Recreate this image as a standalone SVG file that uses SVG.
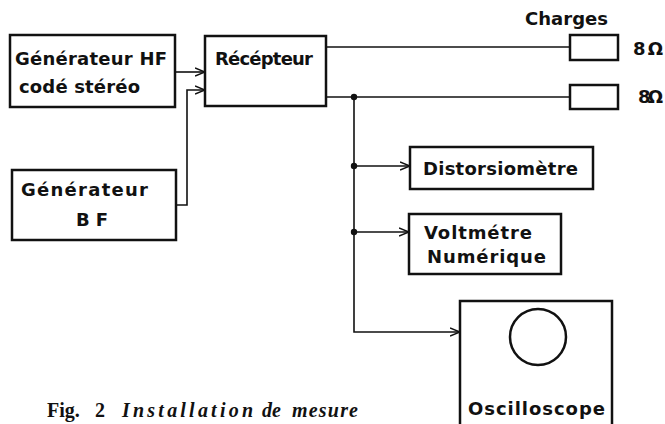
<svg xmlns="http://www.w3.org/2000/svg" width="665" height="424" viewBox="0 0 665 424">
<style>
.box{fill:#fff;stroke:#111;stroke-width:2.5}
.lbl{font-family:"DejaVu Sans","Liberation Sans",sans-serif;font-weight:bold;font-size:18px;fill:#111}
.wire{fill:none;stroke:#111;stroke-width:1.6}
.cap{font-family:"Liberation Serif","DejaVu Serif",serif;font-weight:bold;font-size:20px;fill:#111}
.it{font-style:italic}
</style>
<defs>
<marker id="arr" viewBox="0 0 10 10" refX="10" refY="5" markerWidth="10" markerHeight="10" markerUnits="userSpaceOnUse" orient="auto">
<path d="M0,1 L10,5 L0,9" fill="none" stroke="#111" stroke-width="1.6"/>
</marker>
</defs>
<rect width="665" height="424" fill="#fff"/>
<g id="connectors">
<line class="wire" x1="176" y1="72" x2="205" y2="72" marker-end="url(#arr)"/>
<polyline class="wire" points="176,205 187,205 187,90 205,90" marker-end="url(#arr)"/>
<line class="wire" x1="326" y1="47" x2="570" y2="47"/>
<line class="wire" x1="326" y1="97" x2="570" y2="97"/>
<polyline class="wire" points="354,97 354,332 460,332" marker-end="url(#arr)"/>
<line class="wire" x1="354" y1="166" x2="410" y2="166" marker-end="url(#arr)"/>
<line class="wire" x1="354" y1="232" x2="409" y2="232" marker-end="url(#arr)"/>
<circle cx="354" cy="97" r="3.2" fill="#111"/>
<circle cx="354" cy="166" r="3.2" fill="#111"/>
<circle cx="354" cy="232" r="3.2" fill="#111"/>
</g>
<g id="gen-hf">
<rect class="box" x="10" y="35" width="165" height="72"/>
<text class="lbl" x="15" y="65" textLength="152" lengthAdjust="spacing">Générateur HF</text>
<text class="lbl" x="19" y="93" textLength="121" lengthAdjust="spacing">codé stéréo</text>
</g>
<g id="recepteur">
<rect class="box" x="205" y="36" width="121" height="70"/>
<text class="lbl" x="215" y="65" textLength="98" lengthAdjust="spacing">Récépteur</text>
</g>
<g id="gen-bf">
<rect class="box" x="12" y="170" width="164" height="70"/>
<text class="lbl" x="21" y="196" textLength="127" lengthAdjust="spacing">Générateur</text>
<text class="lbl" x="76" y="226" textLength="32" lengthAdjust="spacing">BF</text>
</g>
<g id="charges">
<text class="lbl" x="525" y="25" textLength="83" lengthAdjust="spacing">Charges</text>
</g>
<g id="charge1">
<rect class="box" x="570" y="35" width="48" height="25"/>
<text class="lbl" x="633" y="55" textLength="30" lengthAdjust="spacing">8 Ω</text>
</g>
<g id="charge2">
<rect class="box" x="570" y="85" width="48" height="24"/>
<text class="lbl" x="638" y="103" textLength="25" lengthAdjust="spacing">8Ω</text>
</g>
<g id="distorsiometre">
<rect class="box" x="410" y="147" width="183" height="42"/>
<text class="lbl" x="423" y="175" textLength="155" lengthAdjust="spacing">Distorsiomètre</text>
</g>
<g id="voltmetre">
<rect class="box" x="409" y="214" width="152" height="60"/>
<text class="lbl" x="424" y="239" textLength="108" lengthAdjust="spacing">Voltmétre</text>
<text class="lbl" x="427" y="263" textLength="119" lengthAdjust="spacing">Numérique</text>
</g>
<g id="oscilloscope">
<rect class="box" x="460" y="301" width="152" height="135"/>
<circle cx="538" cy="337" r="28" fill="none" stroke="#111" stroke-width="2.5"/>
<text class="lbl" x="468" y="415" textLength="137" lengthAdjust="spacing">Oscilloscope</text>
</g>
<g id="caption">
<text class="cap" y="417"><tspan x="47">Fig.</tspan> <tspan x="95">2</tspan> <tspan class="it" x="122" textLength="131" lengthAdjust="spacing">Installation</tspan> <tspan class="it" x="262">de</tspan> <tspan class="it" x="292" textLength="66" lengthAdjust="spacing">mesure</tspan></text>
</g>
</svg>
